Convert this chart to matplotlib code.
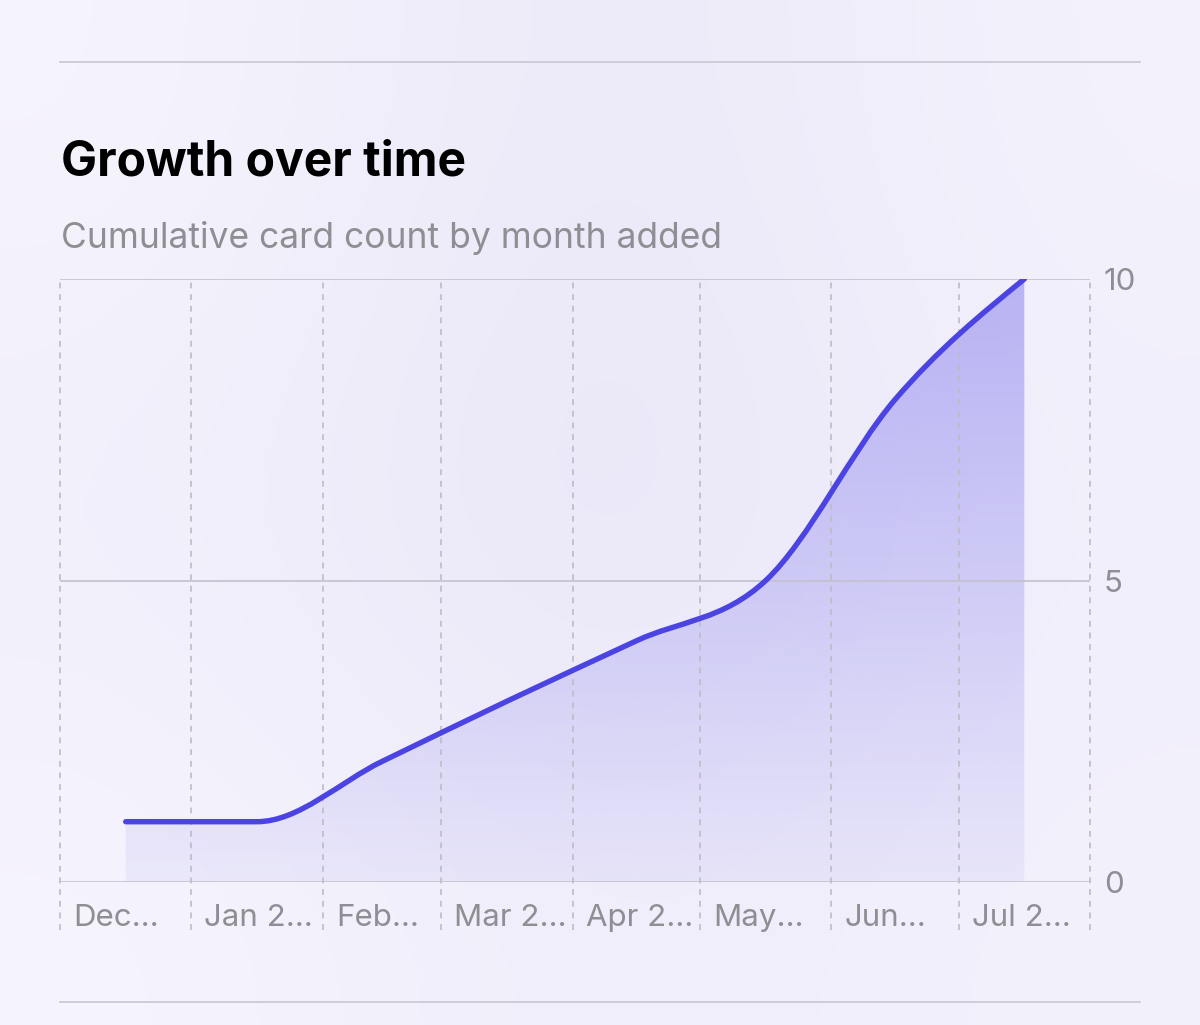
import numpy as np
import matplotlib
matplotlib.use("Agg")
import matplotlib.pyplot as plt
import matplotlib.dates as mdates
import matplotlib.transforms as mtransforms
from matplotlib.path import Path
from matplotlib.patches import PathPatch
from matplotlib.lines import Line2D

plt.rcParams["font.family"] = ["Inter", "DejaVu Sans"]

# data
months = ["2024-12", "2025-01", "2025-02", "2025-03", "2025-04", "2025-05", "2025-06", "2025-07"]
month_labels = ["Dec…", "Jan 2…", "Feb…", "Mar 2…", "Apr 2…", "May…", "Jun…", "Jul 2…"]
card_counts = [1, 1, 2, 3, 4, 5, 8, 10]
y_ticks = [0, 5, 10]

title = "Growth over time"
subtitle = "Cumulative card count by month added"

line_color = "#4B44E3"
grid_color = "#BDBBC6"
label_color = "#8E8E93"

# month edges and mid-month positions
first = np.datetime64(months[0], "M")
edges = np.arange(first, first + len(months) + 1).astype("datetime64[D]")
edge_num = mdates.date2num(edges)
mid_num = (edge_num[:-1] + edge_num[1:]) / 2


def monotone_path(x, y):
    # monotone cubic through the points, as bezier segments
    x = np.asarray(x, float)
    y = np.asarray(y, float)
    h = np.diff(x)
    s = np.diff(y) / h
    t = np.zeros_like(x)
    for i in range(1, len(x) - 1):
        p = (s[i - 1] * h[i] + s[i] * h[i - 1]) / (h[i - 1] + h[i])
        t[i] = (np.sign(s[i - 1]) + np.sign(s[i])) * min(abs(s[i - 1]), abs(s[i]), 0.5 * abs(p))
    t[0] = (3 * s[0] - t[1]) / 2
    t[-1] = (3 * s[-1] - t[-2]) / 2
    verts = [(x[0], y[0])]
    codes = [Path.MOVETO]
    for i in range(len(x) - 1):
        dx = h[i] / 3
        verts += [(x[i] + dx, y[i] + dx * t[i]),
                  (x[i + 1] - dx, y[i + 1] - dx * t[i + 1]),
                  (x[i + 1], y[i + 1])]
        codes += [Path.CURVE4] * 3
    return verts, codes


fig = plt.figure(figsize=(12, 10.25), dpi=100)

# soft background wash
bg = fig.add_axes([0, 0, 1, 1], zorder=-5)
bg_colors = np.array([
    [[0.965, 0.957, 0.988], [0.918, 0.910, 0.973], [0.957, 0.949, 0.988]],
    [[0.945, 0.937, 0.984], [0.906, 0.898, 0.970], [0.945, 0.937, 0.984]],
    [[0.965, 0.957, 0.992], [0.937, 0.929, 0.980], [0.953, 0.945, 0.988]],
])
bg.imshow(bg_colors, aspect="auto", interpolation="bicubic", extent=[0, 1, 0, 1])
bg.set_axis_off()

ax = fig.add_axes([60 / 1200, 1 - 882 / 1025, 1030 / 1200, 603 / 1025])
ax.set_facecolor("none")

# fill under the curve with a vertical gradient
verts, codes = monotone_path(mid_num, card_counts)
fill_verts = verts + [(mid_num[-1], 0), (mid_num[0], 0), (mid_num[0], card_counts[0])]
fill_codes = codes + [Path.LINETO, Path.LINETO, Path.CLOSEPOLY]
fill_patch = PathPatch(Path(fill_verts, fill_codes), facecolor="none", edgecolor="none")
ax.add_patch(fill_patch)

grad = np.zeros((256, 1, 4))
base = matplotlib.colors.to_rgb("#6A60EA")
grad[:, 0, :3] = base
grad[:, 0, 3] = np.linspace(0.07, 0.42, 256)
img = ax.imshow(grad, aspect="auto", origin="lower",
                extent=[edge_num[0], edge_num[-1], 0, 10], zorder=1)
img.set_clip_path(fill_patch)

line_patch = PathPatch(Path(verts, codes), facecolor="none", edgecolor=line_color,
                       lw=3.9, capstyle="round", joinstyle="round", zorder=4)
ax.add_patch(line_patch)

# grid
for v in y_ticks:
    ax.axhline(v, color="#C3C1CC", lw=1.2, zorder=2)
for e in edge_num:
    ax.axvline(e, ymin=-48 / 603, ymax=1, clip_on=False, color=grid_color,
               lw=1.2, ls=(0, (3.5, 3.5)), zorder=2)

ax.set_xlim(edge_num[0], edge_num[-1])
ax.set_ylim(0, 10)
for sp in ax.spines.values():
    sp.set_visible(False)

ax.set_xticks([])
ax.yaxis.tick_right()
ax.set_yticks(y_ticks)
ax.set_yticklabels([str(v) for v in y_ticks])
ax.tick_params(axis="y", length=0, pad=10, labelsize=22.5, labelcolor=label_color)

label_tr = mtransforms.offset_copy(ax.get_xaxis_transform(), fig=fig, x=13, y=0, units="dots")
for e, lab in zip(edge_num[:-1], month_labels):
    ax.text(e, -36 / 603, lab, transform=label_tr, ha="left", va="center",
            fontsize=22.5, color=label_color)

# header
fig.text(61 / 1200, 1 - 163 / 1025, title, fontsize=34.5, fontweight="bold",
         color="black", va="center", ha="left")
fig.text(61 / 1200, 1 - 238 / 1025, subtitle, fontsize=25.5,
         color=label_color, va="center", ha="left")

# separators
for yy in (62, 1002):
    fig.add_artist(Line2D([60 / 1200, 1140 / 1200], [1 - yy / 1025] * 2,
                          color="#C8C6D0", lw=1.2))

fig.savefig("out.png", dpi=100)
